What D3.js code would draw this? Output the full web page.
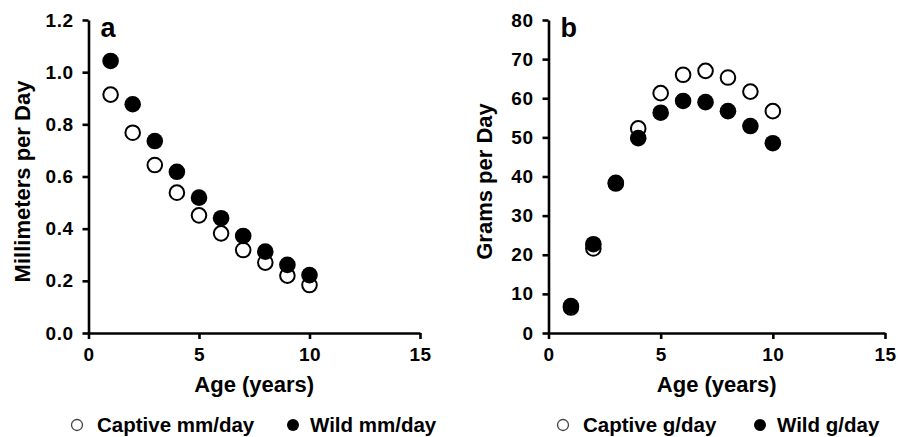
<!DOCTYPE html>
<meta charset="utf-8">
<style>
    body { margin: 0; background: #fff; }
    svg { font-family: "Liberation Sans", Arial, sans-serif; font-weight: bold; }
    .axis path, .axis line { stroke: #000; stroke-width: 2.6px; }
    .axis text { font-size: 19px; font-weight: bold; fill: #000; letter-spacing: 0.5px; }
</style>
<svg width="898" height="437"></svg>
<script src="https://d3js.org/d3.v7.min.js"></script>
<script>

    var svg = d3.select("svg");

    // data
    var ages = [1, 2, 3, 4, 5, 6, 7, 8, 9, 10];
    var captiveMm = [0.914, 0.768, 0.644, 0.538, 0.451, 0.382, 0.318, 0.270, 0.220, 0.184];
    var wildMm = [1.043, 0.877, 0.736, 0.618, 0.519, 0.440, 0.372, 0.312, 0.261, 0.222];
    var captiveG = [6.5, 21.6, 38.2, 52.3, 61.3, 66.0, 67.0, 65.3, 61.7, 56.7];
    var wildG = [6.9, 22.7, 38.4, 49.8, 56.3, 59.3, 59.0, 56.7, 52.9, 48.5];

    var xTicks = [0, 5, 10, 15];
    var mmTicks = [0, 0.2, 0.4, 0.6, 0.8, 1.0, 1.2];
    var gTicks = [0, 10, 20, 30, 40, 50, 60, 70, 80];

    var panels = [
        {
            letter: "a", left: 88.5, right: 420, yMax: 1.2, yTicks: mmTicks, fmt: d3.format(".1f"),
            yLabel: "Millimeters per Day", yLabelX: 22,
            captive: captiveMm, wild: wildMm,
            legend: ["Captive mm/day", "Wild mm/day"], legX: [77, 293]
        },
        {
            letter: "b", left: 548.5, right: 885, yMax: 80, yTicks: gTicks, fmt: d3.format("d"),
            yLabel: "Grams per Day", yLabelX: 484,
            captive: captiveG, wild: wildG,
            legend: ["Captive g/day", "Wild g/day"], legX: [563, 760]
        }
    ];

    var plotTop = 20, plotBottom = 333;

    panels.forEach(function(p) {
        var x = d3.scaleLinear().domain([0, 15]).range([p.left, p.right]);
        var y = d3.scaleLinear().domain([0, p.yMax]).range([plotBottom, plotTop]);

        svg.append("g")
            .attr("class", "axis")
            .attr("transform", "translate(0," + plotBottom + ")")
            .call(d3.axisBottom(x).tickValues(xTicks).tickSize(6).tickSizeOuter(0).tickPadding(9));

        svg.append("g")
            .attr("class", "axis")
            .attr("transform", "translate(" + p.left + ",0)")
            .call(d3.axisLeft(y).tickValues(p.yTicks).tickFormat(p.fmt).tickSize(6).tickSizeOuter(0).tickPadding(9));

        // panel letter
        svg.append("text")
            .attr("x", p.left + 12)
            .attr("y", 37)
            .attr("font-size", 27)
            .text(p.letter);

        // axis titles
        svg.append("text")
            .attr("x", (p.left + p.right) / 2)
            .attr("y", 392)
            .attr("text-anchor", "middle")
            .attr("font-size", 22)
            .text("Age (years)");

        svg.append("text")
            .attr("transform", "translate(" + p.yLabelX + "," + ((plotTop + plotBottom) / 2 + 5) + ") rotate(-90)")
            .attr("text-anchor", "middle")
            .attr("dy", "0.35em")
            .attr("font-size", 22)
            .text(p.yLabel);

        // captive (open) then wild (filled) on top
        svg.append("g").selectAll("circle")
            .data(ages)
            .enter()
            .append("circle")
            .attr("cx", function(d) { return x(d); })
            .attr("cy", function(d, i) { return y(p.captive[i]); })
            .attr("r", 7.3)
            .attr("fill", "#fff")
            .attr("stroke", "#000")
            .attr("stroke-width", 2);

        svg.append("g").selectAll("circle")
            .data(ages)
            .enter()
            .append("circle")
            .attr("cx", function(d) { return x(d); })
            .attr("cy", function(d, i) { return y(p.wild[i]); })
            .attr("r", 8.3)
            .attr("fill", "#000");

        // legend
        var ly = 425;
        svg.append("circle")
            .attr("cx", p.legX[0]).attr("cy", ly)
            .attr("r", 5.5)
            .attr("fill", "#fff")
            .attr("stroke", "#444")
            .attr("stroke-width", 1.3);
        svg.append("text")
            .attr("x", p.legX[0] + 20).attr("y", ly + 7)
            .attr("font-size", 20.5)
            .text(p.legend[0]);
        svg.append("circle")
            .attr("cx", p.legX[1]).attr("cy", ly)
            .attr("r", 6)
            .attr("fill", "#000");
        svg.append("text")
            .attr("x", p.legX[1] + 17).attr("y", ly + 7)
            .attr("font-size", 20.5)
            .text(p.legend[1]);
    });

</script>
